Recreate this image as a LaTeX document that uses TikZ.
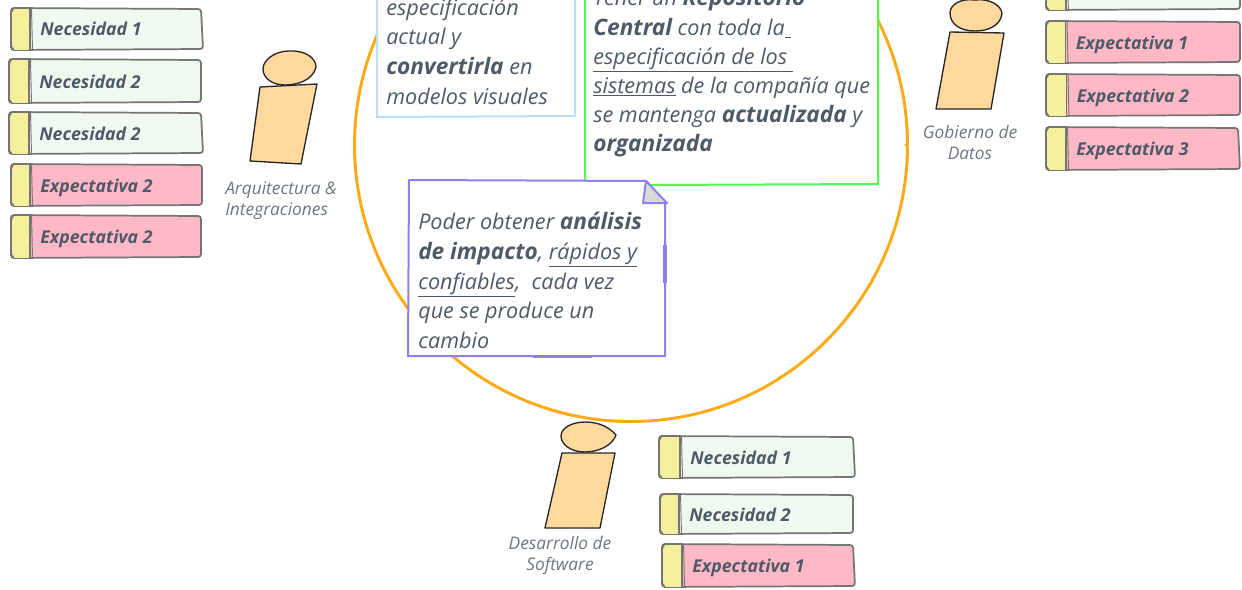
\documentclass[tikz,border=0pt]{standalone}
\usepackage{fontspec}
\setmainfont{Open Sans}
\definecolor{ink}{HTML}{4F5A68}
\definecolor{lab}{HTML}{6E7682}
\definecolor{edge}{HTML}{757575}
\definecolor{needc}{HTML}{F0F9EF}
\definecolor{expc}{HTML}{FFB8C6}
\definecolor{tabc}{HTML}{F5F09B}
\definecolor{skin}{HTML}{FDD99E}
\definecolor{ringc}{HTML}{FFA914}
\definecolor{bluec}{HTML}{BBDFFB}
\definecolor{greenc}{HTML}{4DFB4D}
\definecolor{purplec}{HTML}{8F80EE}
\newcommand{\hb}[1]{{\fontsize{17}{18}\selectfont\bfseries #1}}
\tikzset{
  stickline/.style={draw=edge,line width=1.3pt,rounded corners=2.2pt},
  stickfont/.style={anchor=base west,inner sep=0pt,text=ink,yshift=-0.75pt,font=\fontsize{13.3}{15}\selectfont\bfseries\itshape},
  bodytext/.style={anchor=base west,inner sep=0pt,text=ink,yshift=-0.75pt,font=\fontsize{16.2}{18}\selectfont\itshape},
  rolelabel/.style={inner sep=0pt,text=lab,yshift=-0.75pt,font=\fontsize{13}{15}\selectfont\itshape,anchor=base},
  person/.style={draw=black!85,line width=1pt,fill=skin,line join=round},
}
% name, x1, y1, x2, y2, rule x, fill colour, text, bottom-right jitter
\newcommand{\stick}[9]{
  \path[stickline,fill=#7] (#2,#3) -- (#4,#3+1) -- ({#4+#9},#5-1) -- (#2,#5) -- cycle;
  \path[fill=tabc] (#2+1,#3+1) rectangle (#6,#5);
  \path[stickline,rounded corners=2.2pt] (#2+3,#3) -- (#2,#3+3) -- (#2,#5-2) -- (#2+3,#5);
  \draw[edge,line width=1.3pt] (#6,#3-1) -- (#6,#5+1);
  \draw[edge,line width=.7pt] (#6+1.5,#3) -- (#6+2.5,#5);
  \node[stickfont] (#1) at (#6+10,{(#3+#5)/2+6}) {#8};
}
\begin{document}
\begin{tikzpicture}[x=0.75pt,y=-0.75pt]
\useasboundingbox (0,0) rectangle (1242,589);
\fill[white] (0,0) rectangle (1242,589);

% ring
\draw[ringc,line width=2.2pt] (631,145) circle[radius=276.5];
\draw[ringc,line width=1.4pt] (905,144) -- (908,147);

% blue box
\draw[bluec,line width=1.5pt,fill=white] (377,-5) -- (377,117) -- (575,116) -- (575,-5);
\node[bodytext] (b1) at (386,14) {especificación};
\node[bodytext] (b2) at (386,43) {actual y};
\node[bodytext] (b3) at (386,73) {\hb{convertirla} en};
\node[bodytext] (b4) at (386,103) {modelos visuales};

% green box
\draw[greenc,line width=1.5pt,fill=white] (585,-5) -- (585,181) -- (650,185) -- (878,184) -- (878,-5);
\node[bodytext] (g1) at (593,4) {Tener un \hb{Repositorio}};
\node[bodytext] (g2) at (593,34) {\hb{Central} con toda la\underline{\ }};
\node[bodytext] (g3) at (593,63) {\underline{especificación de los\ }};
\node[bodytext] (g4) at (593,92) {\underline{sistemas} de la compañía que};
\node[bodytext] (g5) at (593,121) {se mantenga \hb{actualizada} y};
\node[bodytext] (g6) at (593,150) {\hb{organizada}};

% purple note
\draw[purplec,line width=1.5pt,fill=white,line join=round] (409,180) -- (646,181) -- (665,203) -- (665,356) -- (408,356) -- cycle;
\draw[purplec,line width=1.5pt,fill=black!15,line join=round] (646,181) -- (667,203) -- (643,203) -- cycle;
\draw[purplec,line width=2.4pt] (665,245) -- (665,283);
\draw[purplec,line width=2.4pt] (533,356.5) -- (592,356.5);
\node[bodytext] (p1) at (418,228) {Poder obtener \hb{análisis}};
\node[bodytext] (p2) at (418,258) {\hb{de impacto}, \underline{rápidos y}};
\node[bodytext] (p3) at (418,288) {\underline{confiables},\ \ cada vez};
\node[bodytext] (p4) at (418,317) {que se produce un};
\node[bodytext] (p5) at (418,347) {cambio};

% left stickies
\stick{l1}{11}{8}{201}{50}{30}{needc}{Necesidad 1}{2}
\stick{l2}{9}{59}{201}{103}{29}{needc}{Necesidad 2}{0}
\stick{l3}{9}{112}{201}{154}{29}{needc}{Necesidad 2}{2}
\stick{l4}{11}{164}{202}{206}{30}{expc}{Expectativa 2}{0}
\stick{l5}{11}{215}{201}{258}{30}{expc}{Expectativa 2}{0}

% right stickies
\stick{r0}{1046}{-12}{1240}{10}{1066}{needc}{}{0}
\stick{r1}{1046}{21}{1240}{63}{1065.5}{expc}{Expectativa 1}{0}
\stick{r2}{1046}{74}{1240}{116}{1066.5}{expc}{Expectativa 2}{0}
\stick{r3}{1046}{127}{1238}{170}{1066}{expc}{Expectativa 3}{2}

% bottom stickies
\stick{d1}{659}{436}{853}{478}{680}{needc}{Necesidad 1}{2}
\stick{d2}{660}{494}{853}{534}{679}{needc}{Necesidad 2}{0}
\stick{d3}{662}{544}{853}{587}{682}{expc}{Expectativa 1}{2}

% people
\draw[person] (260,87) -- (317,84) -- (301,164) -- (250,161) -- cycle;
\draw[person] (289,51) .. controls (305,50) and (316,58) .. (316,67) .. controls (313,80) and (298,85) .. (285,85) .. controls (272,85) and (263,78) .. (263,69) .. controls (263,60) and (275,51) .. (289,51) -- cycle;
\node[rolelabel,anchor=base west] (a1) at (225,193) {Arquitectura \&};
\node[rolelabel,anchor=base west] (a2) at (225,214) {Integraciones};

\draw[person] (950,32) -- (1004,33) -- (991,109) -- (936,109) -- cycle;
\draw[person] (975,0) .. controls (990,-2) and (1002,6) .. (1002,14) .. controls (1000,26) and (988,31) .. (975,31) .. controls (960,31) and (950,24) .. (950,13) .. controls (950,5) and (960,-2) .. (975,0) -- cycle;
\node[rolelabel] (s1) at (970,137) {Gobierno de};
\node[rolelabel] (s2) at (970,158) {Datos};

\draw[person] (562,453) -- (615,453) -- (600,528) -- (545,528) -- cycle;
\draw[person] (585,422) .. controls (600,422) and (610,428) .. (616,435) .. controls (612,446) and (598,452) .. (585,452) .. controls (570,452) and (561,444) .. (561,436) .. controls (561,428) and (572,422) .. (585,422) -- cycle;
\node[rolelabel] (v1) at (560,548) {Desarrollo de};
\node[rolelabel] (v2) at (560,569) {Software};
\end{tikzpicture}
\end{document}
